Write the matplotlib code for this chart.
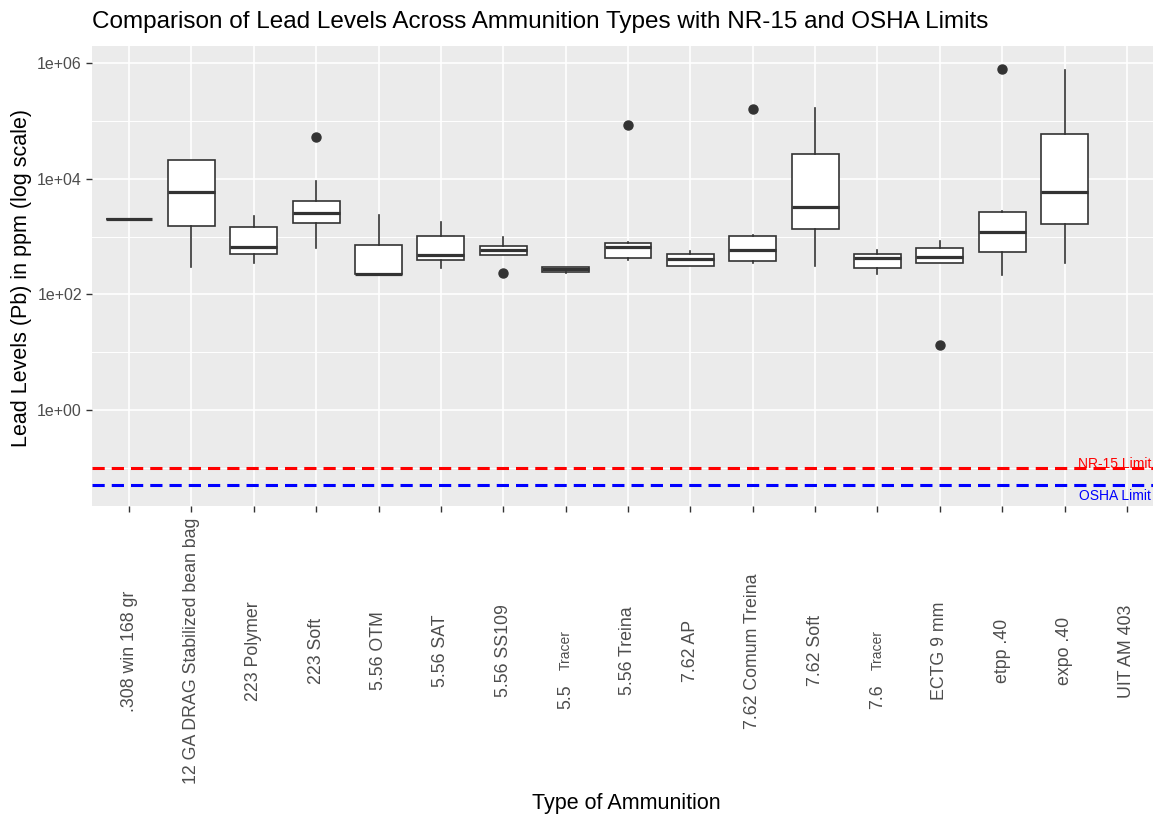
import numpy as np
import matplotlib
matplotlib.use("Agg")
from matplotlib import pyplot as plt
from matplotlib import transforms
from matplotlib.ticker import FixedLocator, NullFormatter

plt.rcParams['font.family'] = ['Liberation Sans', 'DejaVu Sans']

# categories on the x axis (the two "Tracer" labels are drawn in two parts)
categories = [".308 win 168 gr", "12 GA DRAG Stabilized bean bag", "223 Polymer",
              "223 Soft", "5.56 OTM", "5.56 SAT", "5.56 SS109", "5.5  Tracer",
              "5.56 Treina", "7.62 AP", "7.62 Comum Treina", "7.62 Soft",
              "7.6  Tracer", "ECTG 9 mm", "etpp .40", "expo .40", "UIT AM 403"]

# box statistics (ppm), None = no data
whis_lo = [2000, 300, 345, 625, 226, 292, 475, 240, 400, 310, 355, 310, 230, 350, 217, 355, None]
q1      = [2000, 1550, 505, 1750, 226, 400, 475, 246, 420, 310, 378, 1380, 292, 350, 540, 1660, None]
median  = [2000, 5900, 660, 2600, 226, 490, 585, 280, 670, 415, 590, 3240, 420, 440, 1190, 5860, None]
q3      = [2000, 21000, 1475, 4200, 720, 1015, 684, 299, 780, 505, 1030, 26600, 505, 640, 2660, 60500, None]
whis_hi = [2000, 21000, 2240, 9150, 2350, 1770, 990, 299, 815, 570, 1090, 166000, 600, 830, 2800, 770000, None]
fliers  = [[], [], [], [53000], [], [], [234], [], [87000], [], [162000], [], [], [13.5], [810000], [], []]

nr15_limit = 0.1
osha_limit = 0.05

fig = plt.figure(figsize=(11.53, 8.14), dpi=100)
W, H = 1153, 814
ax = fig.add_axes([91.6 / W, 1 - 506 / H, 1072.8 / W, 460 / H])
ax.set_facecolor('#EBEBEB')
for s in ax.spines.values():
    s.set_visible(False)

stats = []
pos = []
for i in range(len(categories)):
    if median[i] is None:
        continue
    stats.append(dict(whislo=whis_lo[i], q1=q1[i], med=median[i], q3=q3[i],
                      whishi=whis_hi[i], fliers=fliers[i]))
    pos.append(i + 1)

ax.bxp(stats, positions=pos, widths=0.75, patch_artist=True, showcaps=False,
       boxprops=dict(facecolor='white', edgecolor='#333333', linewidth=1.2),
       whiskerprops=dict(color='#333333', linewidth=1.2),
       medianprops=dict(color='#333333', linewidth=2.3),
       flierprops=dict(marker='o', markerfacecolor='#333333', markeredgecolor='#333333',
                       markersize=6.5), zorder=3)

ax.axhline(nr15_limit, color='#FF0000', lw=2.2, ls=(0, (4, 2.3)), zorder=4)
ax.axhline(osha_limit, color='#0000FF', lw=2.2, ls=(0, (4, 2.3)), zorder=4)

# limit labels, kept just inside the right edge of the picture
tr_lab = transforms.blended_transform_factory(fig.transFigure, ax.transData)
ax.text(1151 / W, 0.116, "NR-15 Limit", color='#FF0000', fontsize=10,
        ha='right', va='center', zorder=5, transform=tr_lab)
ax.text(1151 / W, 0.0325, "OSHA Limit", color='#0000FF', fontsize=10,
        ha='right', va='center', zorder=5, transform=tr_lab)

ax.set_yscale('log')
ax.set_ylim(10 ** -1.66, 10 ** 6.30)
ax.set_xlim(0.4, 17.6)
ax.yaxis.set_major_locator(FixedLocator([1, 1e2, 1e4, 1e6]))
ax.yaxis.set_minor_locator(FixedLocator([0.1, 10, 1e3, 1e5]))
ax.yaxis.set_minor_formatter(NullFormatter())
ax.set_yticklabels(["1e+00", "1e+02", "1e+04", "1e+06"])
ax.set_xticks(range(1, 18))
ax.set_xticklabels([])
ax.tick_params(axis='both', which='major', color='#333333', length=4, width=1.0,
               labelcolor='#4D4D4D', labelsize=11.5, pad=3)
ax.tick_params(axis='y', which='minor', length=0)
ax.grid(True, which='major', color='white', lw=1.2, zorder=0)
ax.grid(True, which='minor', axis='y', color='white', lw=0.7, zorder=0)
ax.set_axisbelow(True)

# x labels, vertically centred under each tick
tr = transforms.blended_transform_factory(ax.transData, fig.transFigure)
for i, lab in enumerate(categories):
    if "Tracer" in lab:
        ax.text(i + 1, 1 - 697 / H, lab.split()[0], rotation=90, ha='center', va='center',
                color='#4D4D4D', fontsize=12.8, transform=tr)
        ax.text(i + 1, 1 - 650 / H, "Tracer", rotation=90, ha='center', va='center',
                color='#4D4D4D', fontsize=10, transform=tr)
    else:
        ax.text(i + 1, 1 - 651 / H, lab, rotation=90, ha='center', va='center',
                color='#4D4D4D', fontsize=12.8, transform=tr)

fig.text(22 / W, 1 - 278 / H, "Lead Levels (Pb) in ppm (log scale)", rotation=90,
         ha='center', va='center', fontsize=15.5, color='black')
fig.text(626 / W, 1 - 804 / H, "Type of Ammunition", ha='center', va='center',
         fontsize=15.5, color='black')
fig.text(92 / W, 1 - 22 / H,
         "Comparison of Lead Levels Across Ammunition Types with NR-15 and OSHA Limits",
         ha='left', va='center', fontsize=17.5, color='black')

fig.savefig("out.png", dpi=100)
